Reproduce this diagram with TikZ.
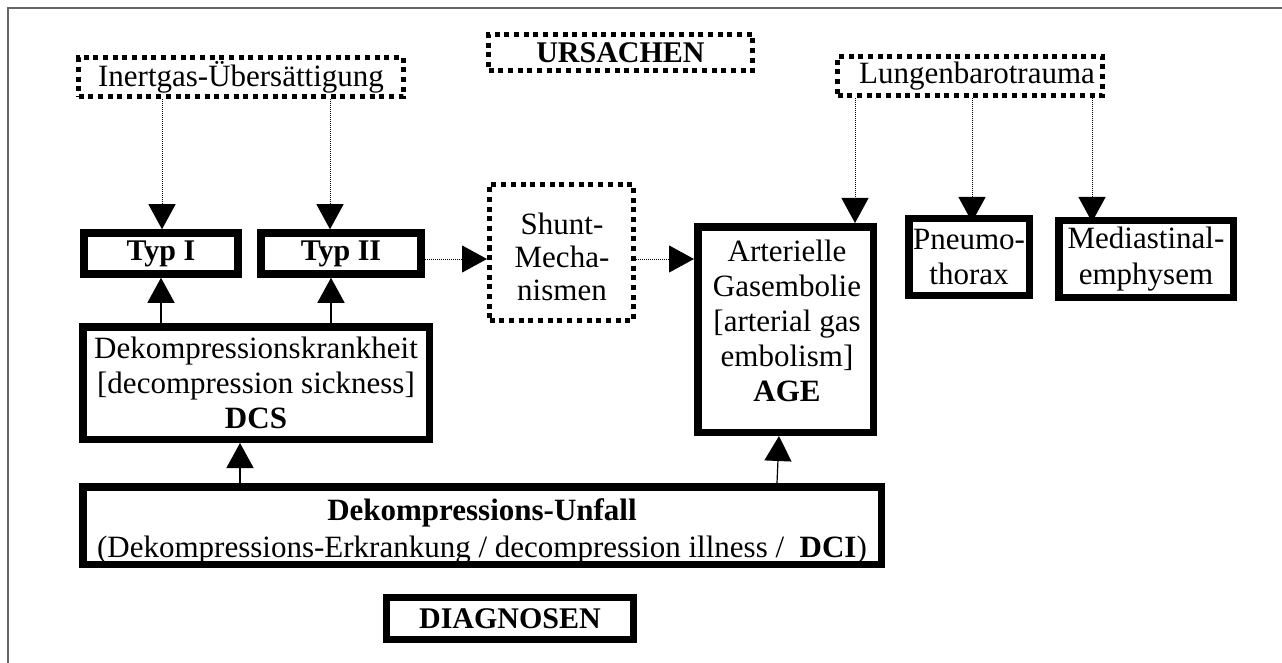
\documentclass[tikz,border=0pt]{standalone}
\usepackage{fontspec}
\setmainfont{Liberation Serif}
\usetikzlibrary{arrows.meta}
\begin{document}
\begin{tikzpicture}[x=1pt,y=-1pt,
  txt/.style={font=\fontsize{31}{35}\selectfont, align=center, inner sep=0pt},
  bftxt/.style={font=\fontsize{30}{34}\selectfont\bfseries, align=center, inner sep=0pt},
  solidbox/.style={txt, draw, line width=7.5pt},
  dotbox/.style={txt, draw, line width=5pt, dash pattern=on 5pt off 4.7pt},
  conn/.style={line width=1.2pt, -{Triangle[length=25pt,width=27pt]}},
  dotconn/.style={conn, line width=1pt, dash pattern=on 1pt off 1pt}
]
\useasboundingbox (0,0) rectangle (1282,663);
% outer frame
\draw[line width=2pt, black!60] (8,663) -- (8,8) -- (1282,8);

% causes
\node[dotbox, minimum width=325pt, minimum height=39pt] (inert) at (241,77) {Inertgas-Übersättigung};
\node[dotbox, bftxt, minimum width=264pt, minimum height=36pt] (ursachen) at (620.5,52.5) {URSACHEN};
\node[dotbox, minimum width=265pt, minimum height=39pt] (lungen) at (970,76) {\hspace*{14pt}Lungenbarotrauma};

% types
\node[solidbox, bftxt, minimum width=154pt, minimum height=41pt] (typ1) at (161,253.5) {Typ I};
\node[solidbox, bftxt, minimum width=160pt, minimum height=41pt] (typ2) at (341,253.5) {Typ II};

% shunt
\node[dotbox, minimum width=144pt, minimum height=136pt] (shunt) at (561.5,252.5) {};
\node[txt, font=\fontsize{31}{33}\selectfont] (shuntT) at (562,256.5) {Shunt-\\Mecha-\\nismen};

% AGE
\node[solidbox, minimum width=175.5pt, minimum height=205.5pt] (age) at (785.5,329.5) {};
\node[txt] (ageT) at (787,320.4) {Arterielle\\Gasembolie\\{[}arterial gas\\embolism{]}\\\textbf{AGE}};

% lung consequences
\node[solidbox, minimum width=120.5pt, minimum height=76.5pt] (pneumo) at (969,257) {Pneumo-\\thorax};
\node[solidbox, font=\fontsize{31}{36}\selectfont, minimum width=174.5pt, minimum height=76.5pt] (medi) at (1146,259) {Mediastinal-\\emphysem};

% DCS
\node[solidbox, minimum width=346.5pt, minimum height=112.5pt] (dcs) at (256,383) {Dekompressionskrankheit\\{[}decompression sickness{]}\\\textbf{DCS}};

% DCI
\node[solidbox, minimum width=798.5pt, minimum height=77.5pt] (unfall) at (482,525.5) {};
\node[txt, font=\fontsize{31}{37}\selectfont] (unfallT) at (482,531.4) {\textbf{Dekompressions-Unfall}\\(Dekompressions-Erkrankung / decompression illness / \ \textbf{DCI})};

\node[solidbox, bftxt, minimum width=247pt, minimum height=42pt] (diag) at (510,618.5) {DIAGNOSEN};

% connectors
\draw[dotconn] (inert.south -| 162,0) -- (typ1.north -| 162,0);
\draw[dotconn] (inert.south -| 330,0) -- (typ2.north -| 330,0);
\draw[conn] (dcs.north -| 161,0) -- (typ1.south -| 161,0);
\draw[conn] (dcs.north -| 331,0) -- (typ2.south -| 331,0);
\draw[dotconn] (typ2.east |- 0,259) -- (shunt.west |- 0,259);
\draw[dotconn] (shunt.east |- 0,259) -- (age.west |- 0,259);
\draw[dotconn] (lungen.south -| 855,0) -- (age.north -| 855,0);
\draw[dotconn, shorten >=-7pt] (lungen.south -| 972,0) -- (pneumo.north -| 972,0);
\draw[dotconn, shorten >=-5pt] (lungen.south -| 1092,0) -- (medi.north -| 1092,0);
\draw[conn] (unfall.north -| 240,0) -- (dcs.south -| 240,0);
\draw[conn] (unfall.north -| 777,0) -- (age.south -| 779,0);
\end{tikzpicture}
\end{document}
